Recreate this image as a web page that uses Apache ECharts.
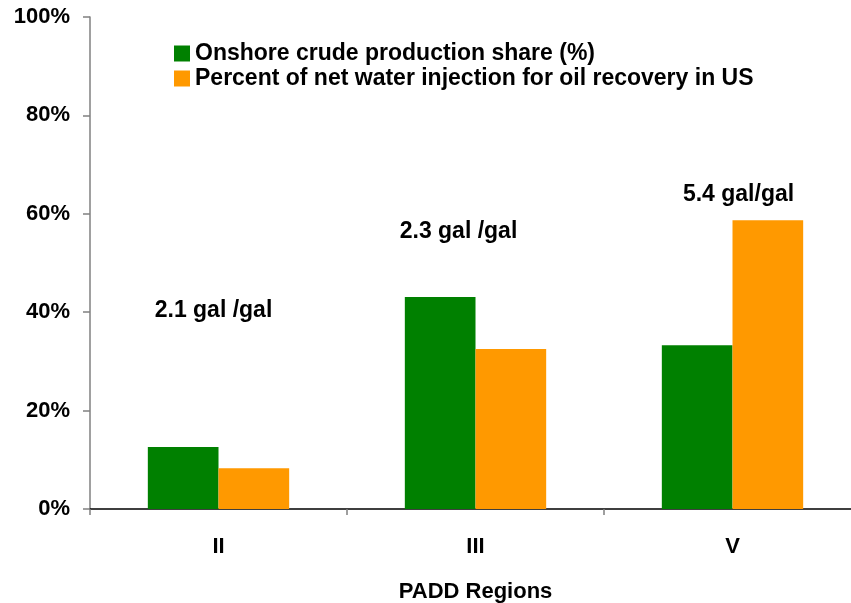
<!DOCTYPE html>
<html>
<head>
<meta charset="utf-8">
<script src="https://cdn.jsdelivr.net/npm/echarts@6/dist/echarts.min.js"></script>
<style>
html,body{margin:0;padding:0;background:#fff;}
#chart{width:851px;height:603px;}
</style>
</head>
<body>
<div id="chart"></div>
<script>
var categories = ['II', 'III', 'V'];
var onshoreShare = [12.6, 43.1, 33.3];
var waterInjection = [8.3, 32.5, 58.7];
var ratioLabels = ['2.1 gal /gal', '2.3 gal /gal', '5.4 gal/gal'];
var ratioLabelY = [40.4, 56.3, 63.8];
var seriesNames = ['Onshore crude production share (%)', 'Percent of net water injection for oil recovery in US'];

var FONT = '"Liberation Sans", Arial, sans-serif';
var chart = echarts.init(document.getElementById('chart'));
var labelOffsets = [[-5, 0], [-17, 0], [6, 0]];
chart.setOption({
  animation: false,
  backgroundColor: '#ffffff',
  grid: { left: 90, top: 17, bottom: 94, width: 771, containLabel: false, outerBoundsMode: 'none' },
  legend: {
    orient: 'vertical', left: 174, top: 42, padding: 0,
    itemWidth: 16, itemHeight: 16, itemGap: 2, icon: 'rect',
    textStyle: { fontFamily: FONT, fontWeight: 'bold', fontSize: 23, color: '#000', padding: [0, 0, 0, 0] },
    data: seriesNames
  },
  xAxis: {
    type: 'category', data: categories,
    name: 'PADD Regions', nameLocation: 'middle', nameGap: 72,
    nameTextStyle: { fontFamily: FONT, fontWeight: 'bold', fontSize: 22, color: '#000' },
    axisLine: { lineStyle: { color: '#000', width: 1.5 } },
    axisTick: { show: true, length: 6, lineStyle: { color: '#808080', width: 1.5 } },
    axisLabel: { fontFamily: FONT, fontWeight: 'bold', fontSize: 22, color: '#000', margin: 27 }
  },
  yAxis: {
    type: 'value', min: 0, max: 100, interval: 20,
    axisLine: { show: true, lineStyle: { color: '#808080', width: 1.5 } },
    axisTick: { show: true, length: 7, lineStyle: { color: '#808080', width: 1.5 } },
    splitLine: { show: false },
    axisLabel: { formatter: '{value}%', fontFamily: FONT, fontWeight: 'bold', fontSize: 22, color: '#000', margin: 20 }
  },
  series: [
    { name: seriesNames[0], type: 'bar', data: onshoreShare, itemStyle: { color: '#008000' }, barGap: '0%', barCategoryGap: '45%' },
    { name: seriesNames[1], type: 'bar', data: waterInjection, itemStyle: { color: '#FF9900' } },
    {
      type: 'scatter', symbolSize: 0, silent: true, itemStyle: { color: '#000' },
      data: ratioLabelY.map(function (v, i) {
        return { value: [categories[i], v], label: { offset: labelOffsets[i] } };
      }),
      label: {
        show: true, position: [0, 0], align: 'center', verticalAlign: 'middle',
        formatter: function (p) { return ratioLabels[p.dataIndex]; },
        fontFamily: FONT, fontWeight: 'bold', fontSize: 23, color: '#000', textBorderWidth: 0, opacity: 1
      }
    }
  ]
});
</script>
</body>
</html>
